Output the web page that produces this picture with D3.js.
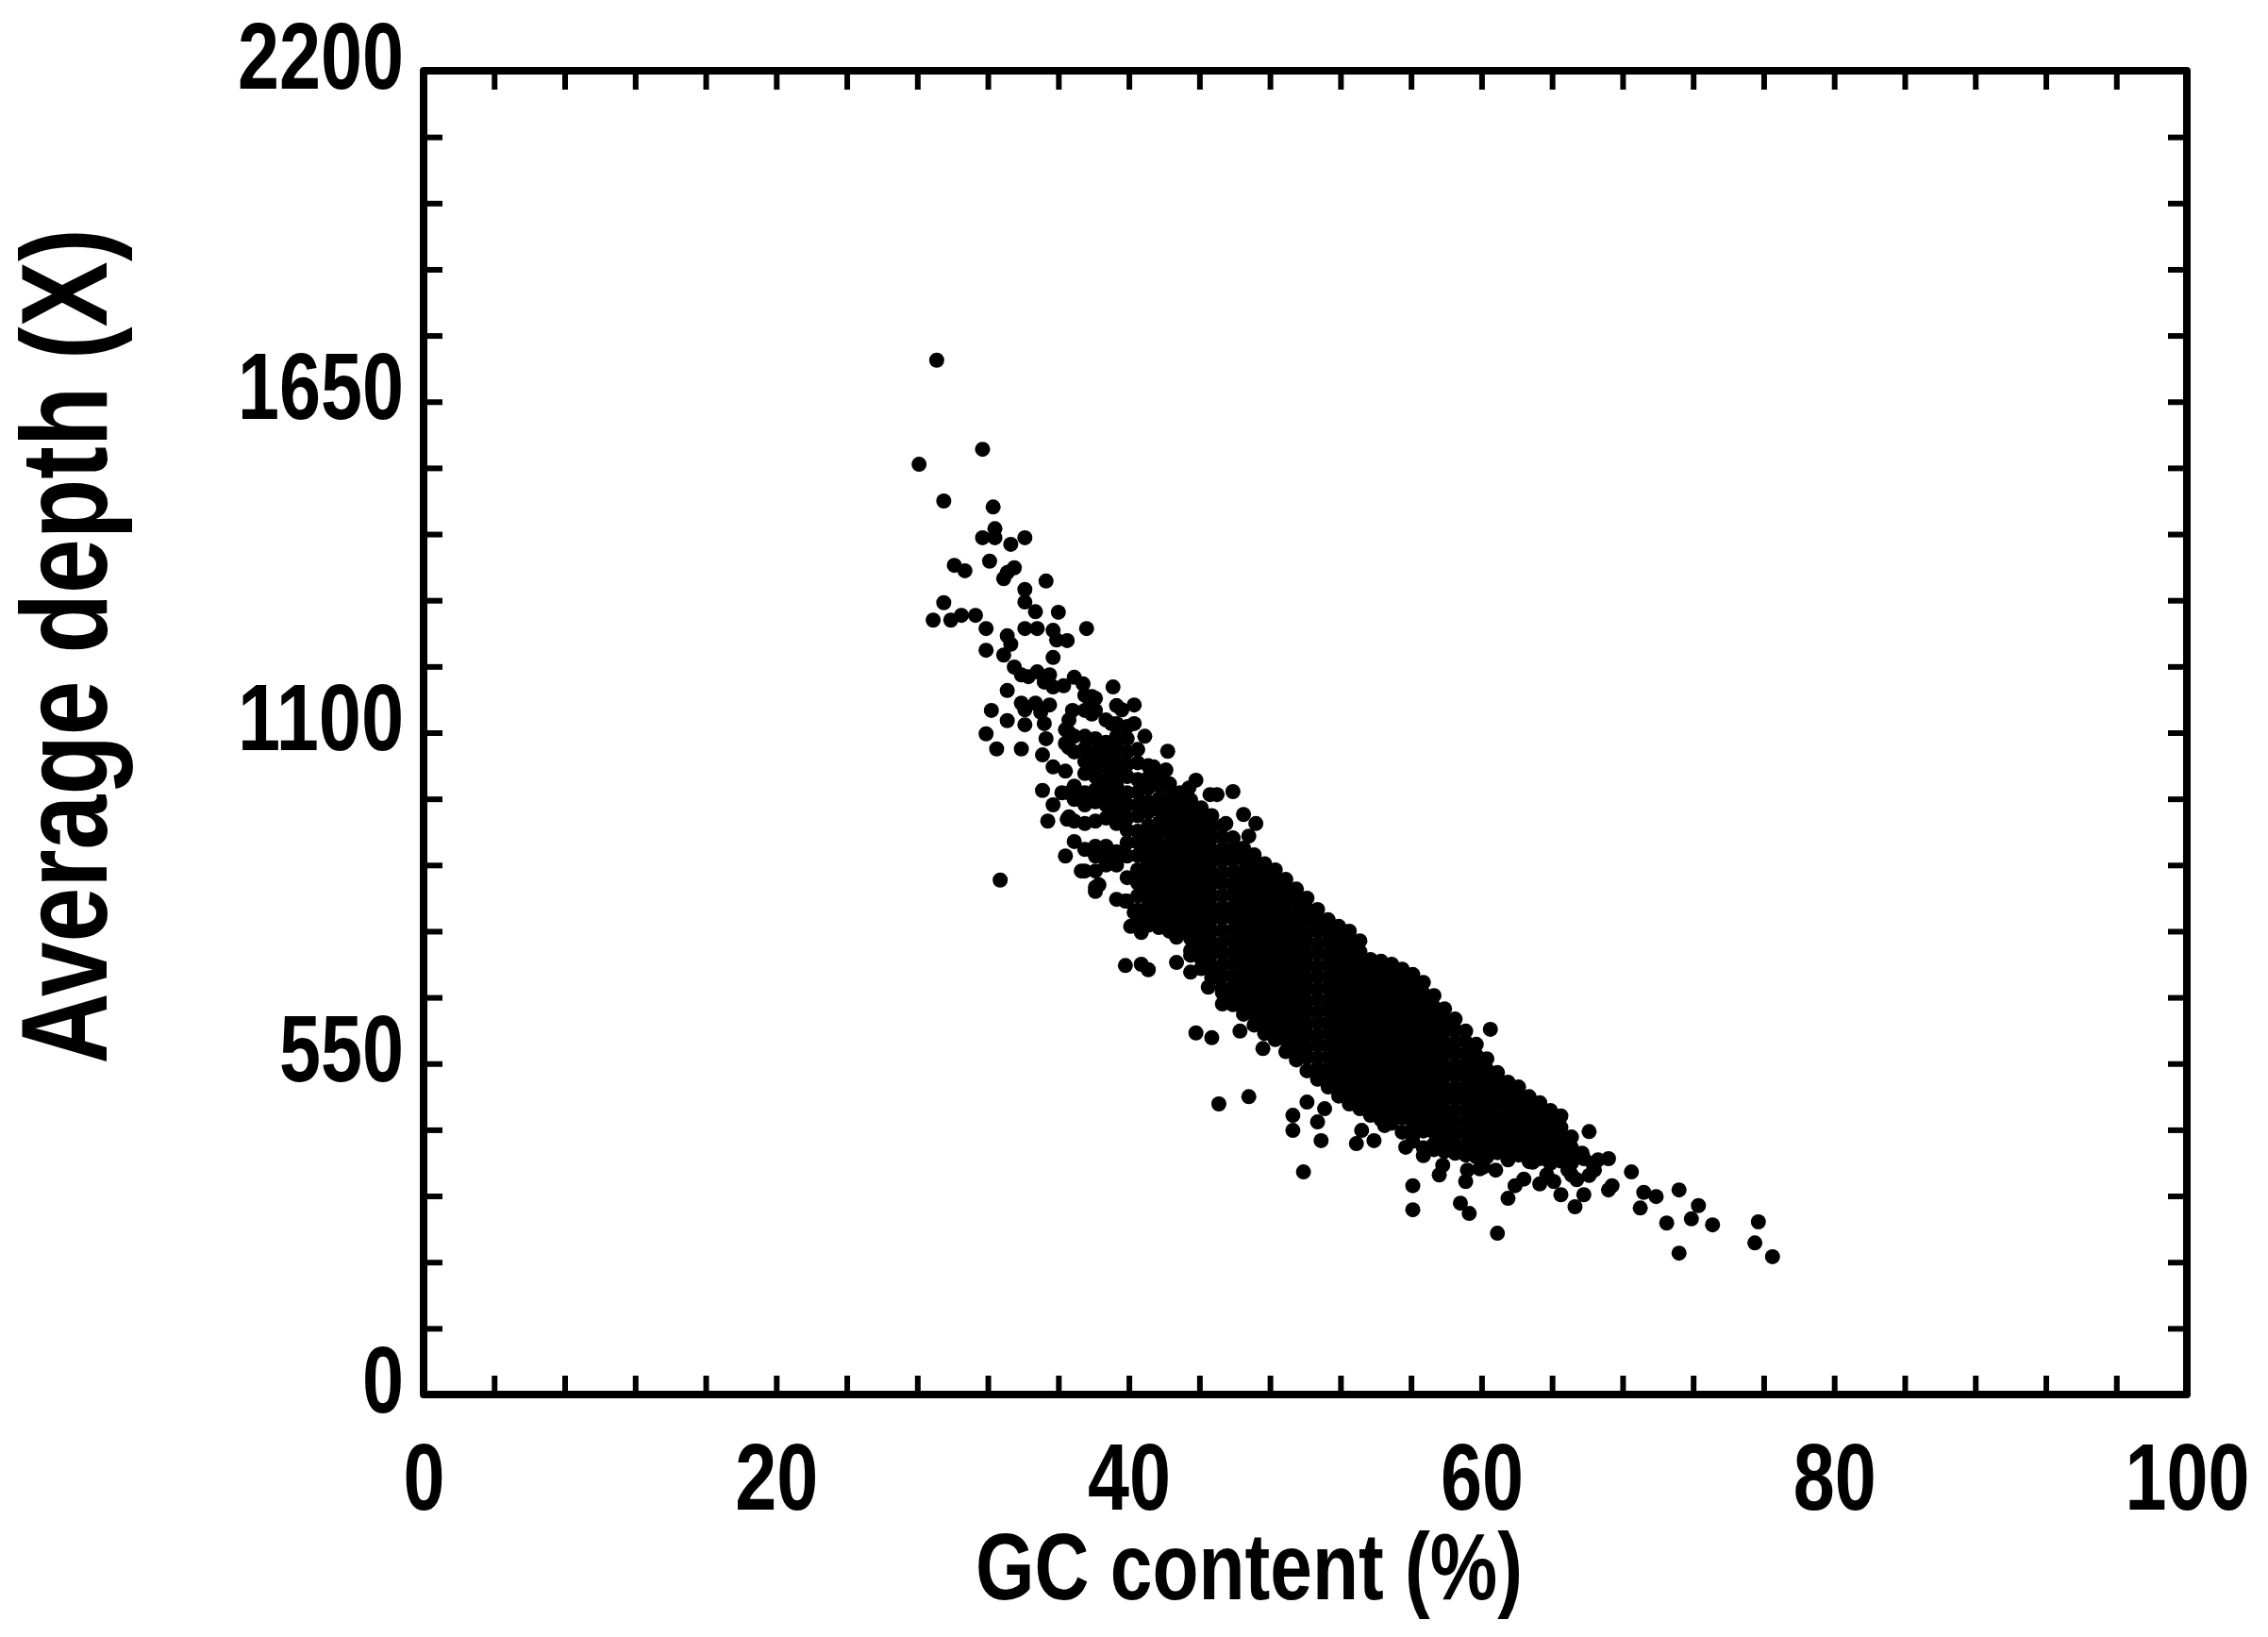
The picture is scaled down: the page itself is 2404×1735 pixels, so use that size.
<!DOCTYPE html>
<html>
<head>
<meta charset="utf-8">
<script src="https://cdn.jsdelivr.net/npm/d3@7"></script>
<style>
  html, body { margin: 0; padding: 0; background: #fff; }
  svg { display: block; }
  text { font-family: "Liberation Sans", Arial, sans-serif; font-weight: bold; fill: #000; }
</style>
</head>
<body>
<script>
// values: [GC %, average depth X]
var upperTail = [[29.1,1719],[31.7,1571],[28.1,1546],[29.5,1485],[32.3,1475],[32.4,1439],[31.7,1424],[32.4,1424],[33.3,1413],[34.1,1424],
  [32.1,1385],[30.1,1378],[30.7,1369],[33.5,1374],[33.1,1366],[32.9,1356],[35.3,1352],[34.1,1338],[34.1,1317],[29.5,1316],
  [34.7,1301],[36.0,1300],[28.9,1287],[29.9,1287],[30.5,1295],[31.3,1295],[31.9,1273],[34.1,1273],[34.8,1273],[35.7,1270],
  [37.6,1273],[33.1,1261],[35.9,1254],[36.5,1253],[33.3,1247],[31.9,1237],[32.9,1229],[35.7,1225]];

var shoulderLeft = [[33.5,1209],[33.9,1196],[34.3,1193],[34.8,1201],[35.5,1196],[35.2,1184],[35.7,1176],[36.3,1178],[36.9,1192],[37.4,1181],
  [39.1,1176],[33.1,1170],[37.9,1160],[40.3,1146],[39.3,1145],[39.6,1138],[37.8,1146],[37.9,1131],[33.9,1149],[34.1,1138],
  [34.7,1149],[35.0,1134],[35.5,1146],[36.8,1137],[36.6,1121],[32.2,1137],[33.1,1120],[34.1,1113],[35.2,1115],[31.9,1098],
  [35.3,1090],[32.5,1073],[33.9,1073],[36.4,1105],[36.4,1082],[35.1,1004],[36.2,1000],[35.7,980],[35.4,953],[36.5,956],
  [36.4,895],[37.3,870],[38.3,847],[39.8,820],[35.1,1063],[35.7,1043],[36.4,1036],[32.7,855]];

var upperEdge = [[39.0,1115],[40.3,1115],[40.9,1094],[42.2,1069],[41.4,1043],[42.1,1038],[43.8,1021],[43.4,1008],[44.6,997],[45.0,997],
  [45.9,1002],[46.5,964],[47.2,949],[46.8,928],[45.9,925],[45.5,949]];

var lowerEdge = [[39.8,713],[40.7,715],[41.1,706],[42.7,718],[41.5,786],[40.7,768],[40.1,778],[40.3,801],[42.7,760],[43.5,702],
  [43.8,601],[44.7,593],[46.3,604],[47.6,575],[45.1,483],[46.8,495],[44.5,677],[45.3,649],[50.1,486],[49.3,464],
  [49.3,439],[50.7,453],[50.9,422],[49.9,370],[51.1,475],[52.9,417],[53.9,422],[53.2,439],[54.5,447],[55.7,411],
  [56.7,397],[57.6,365],[56.1,347],[56.1,307],[59.1,354],[58.8,318],[59.3,301],[60.9,268],[61.5,326],[61.9,347],
  [62.4,358],[59.9,375],[60.5,607]];

var lowerFringe = [[57.8,381],[59.2,373],[60.1,378],[60.8,373],[62.9,386],[63.7,365],[64.9,373],[65.4,357],[66.4,373],[65.8,392],[67.2,392]];

var lowerTail = [[66.1,437],[63.3,350],[64.5,332],[65.8,332],[65.3,312],[66.6,390],[66.1,364],[68.5,370],[67.4,347],[67.2,340],
  [69.2,336],[69.9,329],[69.0,310],[71.2,340],[72.3,314],[71.9,292],[73.1,282],[70.5,285],[75.7,287],[75.5,252],
  [71.2,235],[76.5,229],[64.1,354],[65.1,365]];

// dense part of the cloud, estimated column by column
var coreGc = [36.6,36.9,37.5,38.1,38.7,39.3,39.9,40.5,41.1,41.7,42.3,42.9,43.5,44.1,44.7,45.3,45.9,46.5,47.1,47.7,48.3,48.9,49.5,50.1,50.7,51.3,51.9,52.5,53.1,53.7,54.3,54.9,55.5,56.1,56.7,57.3,57.9,58.5,59.1,59.7,60.3,60.9,61.5,62.1,62.7,63.3,63.9,64.5,65.1,65.7,66.3];
var coreDepth = [
  [1100,1075,1000,960],
  [1094,1068,1011,989,953,919],
  [1162,1137,1094,1074,1052,1032,1000,980,949,906,870],
  [1157,1137,1090,1068,1047,1027,1005,985,953,911,895,870,843,836],
  [1121,1084,1063,1043,1021,1000,980,958,911,895,880],
  [1115,1094,1074,1052,1032,1011,989,969,949,902,880,823],
  [1110,1090,1068,1047,1027,1000,980,958,938,917,895,859,820],
  [1072,1050,1022,1001,980,962,936,918,896,872,850,829,805,786],
  [1045,1025,1008,985,968,945,925,906,884,864,842,820,800,780],
  [1030,1012,990,972,950,934,912,893,872,852,833,812,795,776],
  [1015,996,978,958,938,918,900,880,860,840,820,802,785,770],
  [1000,980,962,942,922,904,884,864,846,826,806,788,770],
  [988,970,950,930,912,892,872,854,834,814,796,776,758,738,730],
  [975,956,936,918,898,878,860,840,820,802,782,762,744,724,708],
  [962,944,925,905,886,866,848,828,808,790,770,750,732,712,692],
  [945,926,906,888,868,850,830,810,792,772,752,734,714,696,676,668],
  [924,906,888,868,848,830,810,792,772,754,734,716,696,678,660,648],
  [908,890,870,852,832,814,794,776,756,738,718,700,680,662,644,632],
  [897,878,860,840,822,802,784,764,746,726,708,688,670,650,632,614],
  [882,864,844,826,806,788,768,750,730,712,692,674,654,636,616,600],
  [872,852,834,814,796,776,758,738,720,700,682,662,644,624,606,590],
  [856,838,818,800,780,762,742,724,704,686,666,648,628,610,590,570],
  [840,822,802,784,764,746,726,708,688,670,650,632,612,594,574,556],
  [825,806,788,768,750,730,712,692,674,654,636,616,598,578,560,538],
  [806,788,770,750,732,712,694,674,656,636,618,598,580,560,542,524],
  [789,770,752,732,714,694,676,656,638,618,600,580,562,542,524,511],
  [778,760,740,722,702,684,664,646,626,608,588,570,550,532,512,496],
  [770,750,732,712,694,674,656,636,618,598,580,560,542,522,504,483],
  [754,736,716,698,678,660,640,622,602,584,564,546,526,508,488,475],
  [723,704,686,666,648,628,610,590,572,552,534,514,496,476,464],
  [720,700,682,662,644,624,606,586,568,548,530,510,492,472,457],
  [715,696,678,658,640,620,602,582,564,544,526,506,488,468,451],
  [707,688,670,650,632,612,594,574,556,536,518,498,480,460,436],
  [698,680,660,642,622,604,584,566,546,528,508,490,470,452,432,421],
  [685,666,648,628,610,590,572,552,534,514,496,476,458,438,410],
  [663,644,626,606,588,568,550,530,512,492,474,454,436,416,407],
  [641,622,604,584,566,546,528,508,490,470,452,432,414,404],
  [624,606,586,568,548,530,510,492,472,454,434,416,401],
  [604,586,566,548,528,510,490,472,452,434,414,398],
  [582,564,544,526,506,488,468,450,430,412,395],
  [558,540,520,502,482,464,444,426,406,395],
  [535,516,498,478,460,440,422,402],
  [519,500,482,462,444,424,406,390],
  [511,492,474,454,436,416,398],
  [495,476,458,438,420,400,387],
  [485,466,448,428,410,392],
  [472,454,434,416,398,384],
  [463,444,426,406,388],
  [428,410,392,385],
  [401],
  [384]
];

var xTicks = [0,4,8,12,16,20,24,28,32,36,40,44,48,52,56,60,64,68,72,76,80,84,88,92,96,100];
var xLabels = [0,20,40,60,80,100];
var yTicks = [0,110,220,330,440,550,660,770,880,990,1100,1210,1320,1430,1540,1650,1760,1870,1980,2090,2200];
var yLabels = [0,550,1100,1650,2200];

var w = 2404;
var h = 1735;
var left = 449, right = 2318, top_ = 75, bottom = 1478;
var tickLen = 20;
var digitW = 44;

var xScale = d3.scaleLinear().domain([0, 100]).range([left, right]);
var yScale = d3.scaleLinear().domain([0, 2200]).range([bottom, top_]);

var svg = d3.select("body").append("svg")
  .attr("width", w)
  .attr("height", h)
  .attr("viewBox", "0 0 " + w + " " + h);

svg.append("rect").attr("width", w).attr("height", h).attr("fill", "#fff");

// put the point lists together
var points = [].concat(upperTail, shoulderLeft, upperEdge, lowerEdge, lowerFringe, lowerTail);
coreGc.forEach(function(g, i) {
  coreDepth[i].forEach(function(d) { points.push([g, d]); });
});

svg.append("g").selectAll("circle")
  .data(points)
  .enter()
  .append("circle")
  .attr("cx", function(d) { return xScale(d[0]); })
  .attr("cy", function(d) { return yScale(d[1]); })
  .attr("r", 8)
  .attr("fill", "#000");

function styleAxis(g) {
  g.select(".domain").remove();
  g.selectAll(".tick line").attr("stroke", "#000").attr("stroke-width", 6);
}

// bottom axis
var gx = svg.append("g")
  .attr("transform", "translate(0," + bottom + ")")
  .call(d3.axisBottom(xScale).tickValues(xTicks).tickSize(-tickLen)
    .tickFormat(function(d) { return xLabels.indexOf(d) >= 0 ? d : ""; }))
  .call(styleAxis);
gx.selectAll("text")
  .attr("y", 122)
  .attr("dy", 0)
  .attr("font-size", 100)
  .filter(function(d) { return xLabels.indexOf(d) >= 0; })
  .attr("textLength", function(d) { return String(d).length * digitW; })
  .attr("lengthAdjust", "spacingAndGlyphs");

// left axis
var gy = svg.append("g")
  .attr("transform", "translate(" + left + ",0)")
  .call(d3.axisLeft(yScale).tickValues(yTicks).tickSize(-tickLen)
    .tickFormat(function(d) { return yLabels.indexOf(d) >= 0 ? d : ""; }))
  .call(styleAxis);
gy.selectAll("text")
  .attr("x", -21)
  .attr("y", 18)
  .attr("dy", 0)
  .attr("font-size", 100)
  .filter(function(d) { return yLabels.indexOf(d) >= 0; })
  .attr("textLength", function(d) { return String(d).length * digitW; })
  .attr("lengthAdjust", "spacingAndGlyphs");

// top and right just repeat the ticks
svg.append("g")
  .attr("transform", "translate(0," + top_ + ")")
  .call(d3.axisTop(xScale).tickValues(xTicks).tickSize(-tickLen).tickFormat(""))
  .call(styleAxis);
svg.append("g")
  .attr("transform", "translate(" + right + ",0)")
  .call(d3.axisRight(yScale).tickValues(yTicks).tickSize(-tickLen).tickFormat(""))
  .call(styleAxis);

// frame
svg.append("rect")
  .attr("x", left)
  .attr("y", top_)
  .attr("width", right - left)
  .attr("height", bottom - top_)
  .attr("fill", "none")
  .attr("stroke", "#000")
  .attr("stroke-width", 8)
  .attr("stroke-linejoin", "round");

// axis titles
svg.append("text")
  .attr("x", 1324)
  .attr("y", 1695)
  .attr("text-anchor", "middle")
  .attr("font-size", 100)
  .attr("textLength", 580)
  .attr("lengthAdjust", "spacingAndGlyphs")
  .text("GC content (%)");

svg.append("text")
  .attr("transform", "translate(113,685) rotate(-90)")
  .attr("text-anchor", "middle")
  .attr("font-size", 130)
  .attr("textLength", 885)
  .attr("lengthAdjust", "spacingAndGlyphs")
  .text("Average depth (X)");
</script>
</body>
</html>
